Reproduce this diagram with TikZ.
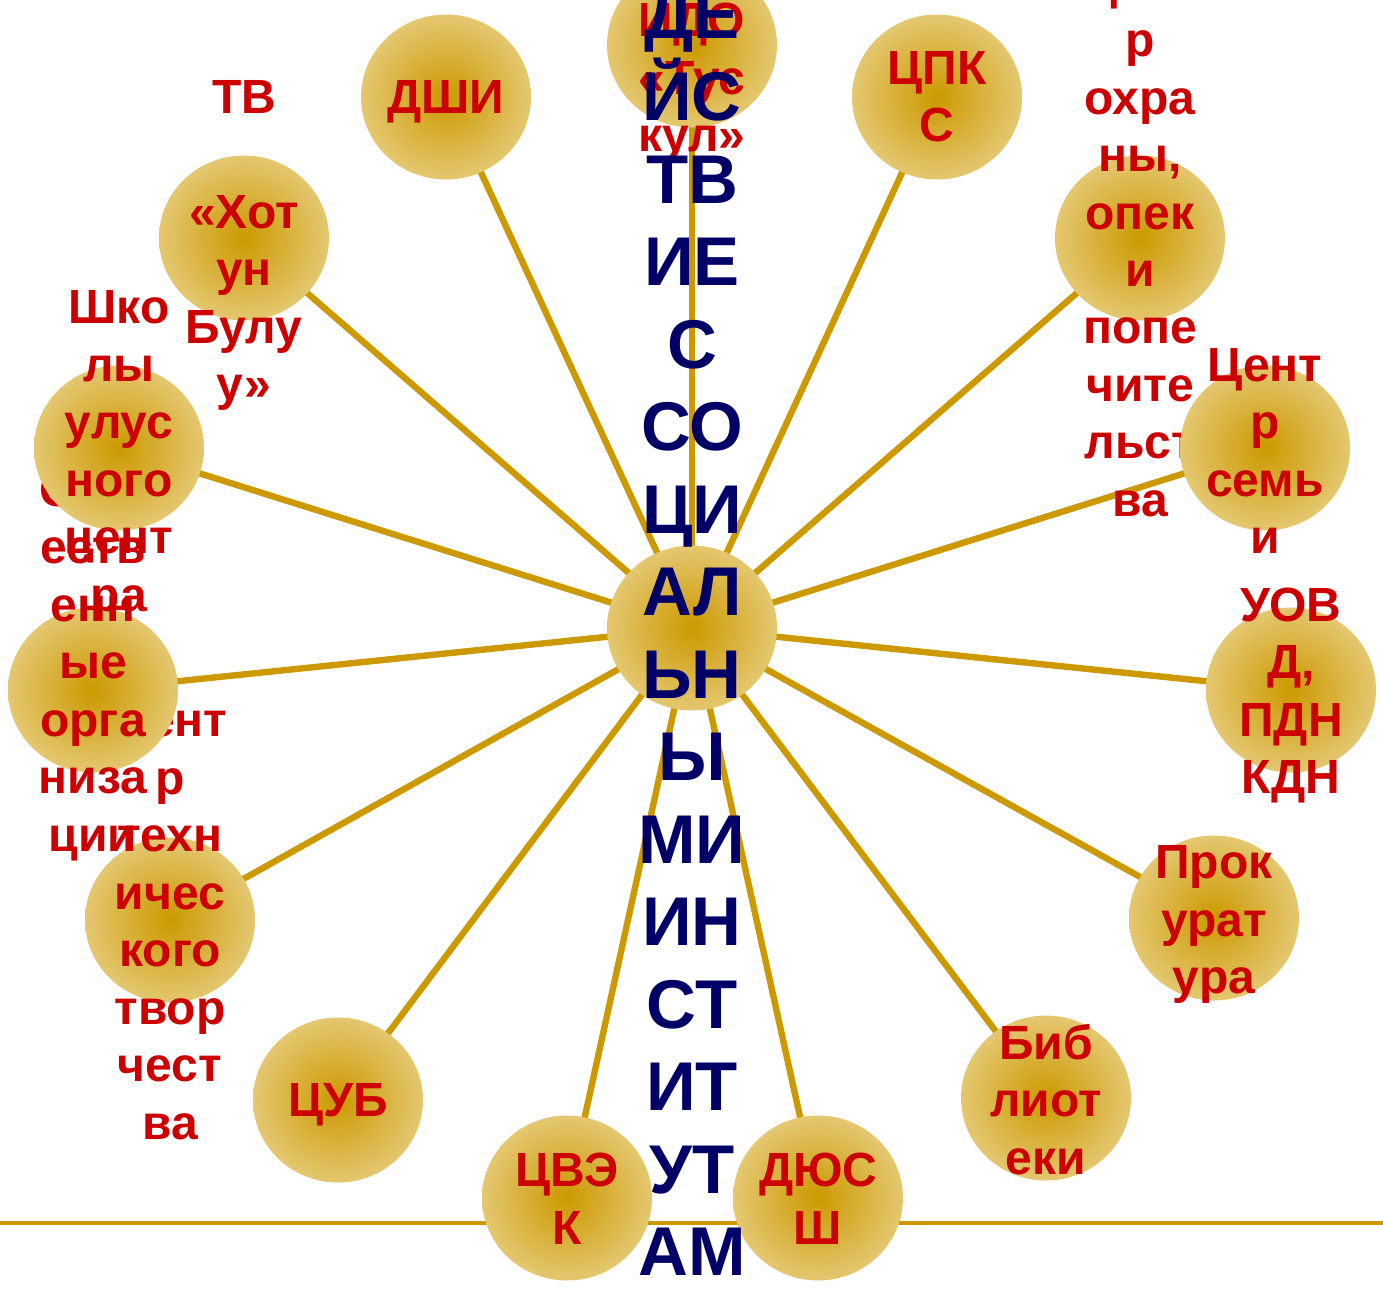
\documentclass[tikz,border=0pt]{standalone}
\usepackage{fontspec}
\setmainfont{Liberation Sans}
\usetikzlibrary{shapes.geometric,backgrounds}
\definecolor{gold}{RGB}{204,153,0}
\definecolor{goldlight}{RGB}{228,199,112}
\definecolor{lblred}{RGB}{204,0,0}
\definecolor{navy}{RGB}{0,0,102}
\newcommand\mytop{\rule{0pt}{0.72em}}
\newcommand\mybot{\rule[-0.21em]{0pt}{0pt}}
\tikzset{
 ball/.style={ellipse, minimum width=85pt, minimum height=82.5pt, inner sep=0pt,
   shading=radial, inner color=gold, outer color=goldlight, draw=none},
 lbl/.style={text=lblred, font=\fontsize{24}{28.75}\selectfont\bfseries, align=center, inner sep=0pt, yshift=-2pt},
 ttl/.style={text=navy, font=\fontsize{34.5}{41.25}\selectfont\bfseries, align=center, inner sep=0pt, yshift=-1pt},
 spoke/.style={draw=gold, line width=3.2pt},
 baseline rule/.style={draw=gold, line width=1.6pt}
}
\begin{document}
\begin{tikzpicture}[x=0.5pt,y=-0.5pt]
\useasboundingbox (0,0) rectangle (1383,1297);
\clip (0,0) rectangle (1383,1297);
% top
\node[ball] (top) at (692,45) {};
\node[lbl] (ttop) at (692,78) {\mytop ИДО\\«Тус\\кул»\mybot};
% ДШИ
\node[ball] (dshi) at (446,97) {};
\node[lbl] (tdshi) at (446,97) {\mytop ДШИ\mybot};
% ЦПКС
\node[ball] (cpk) at (937,97) {};
\node[lbl] (tcpk) at (937,97) {\mytop ЦПК\\С\mybot};
% Хотун Булуу
\node[ball] (hot) at (244,238) {};
\node[lbl] (thot) at (244,241) {\mytop ТВ\\\mbox{}\\«Хот\\ун\\Булу\\у»\mybot};
% опеки
\node[ball] (opek) at (1140,238) {};
\node[lbl] (topek) at (1140,241.5) {\mytop Цент\\р\\охра\\ны,\\опек\\и\\попе\\чите\\льст\\ва\mybot};
% Центр технического творчества
\node[ball] (teh) at (170,920) {};
\node[lbl] (tteh) at (170,921.5) {\mytop Цент\\р\\техн\\ичес\\кого\\твор\\чест\\ва\mybot};
% Общественные организации
\node[ball] (obsh) at (93,690) {};
\node[lbl] (tobsh) at (93,662) {\mytop Общ\\еств\\енн\\ые\\орга\\низа\\ции\mybot};
% Школы
\node[ball] (shk) at (119,448) {};
\node[lbl] (tshk) at (119,451) {\mytop Шко\\лы\\улус\\ного\\цент\\ра\mybot};
% Центр семьи
\node[ball] (sem) at (1265,448) {};
\node[lbl] (tsem) at (1265,451) {\mytop Цент\\р\\семь\\и\mybot};
% УОВД
\node[ball] (ovd) at (1291,690) {};
\node[lbl] (tovd) at (1291,691) {\mytop УОВ\\Д,\\ПДН\\КДН\mybot};
% Прокуратура
\node[ball] (prok) at (1214,918) {};
\node[lbl] (tprok) at (1214,920) {\mytop Прок\\урат\\ура\mybot};
% ЦУБ
\node[ball] (cub) at (338,1100) {};
\node[lbl] (tcub) at (338,1100) {\mytop ЦУБ\mybot};
% Библиотеки
\node[ball] (bib) at (1046,1098) {};
\node[lbl] (tbib) at (1046,1100) {\mytop Биб\\лиот\\еки\mybot};
% ЦВЭК
\node[ball] (cvek) at (567,1198) {};
\node[lbl] (tcvek) at (567,1199) {\mytop ЦВЭ\\К\mybot};
% ДЮСШ
\node[ball] (dush) at (818,1198) {};
\node[lbl] (tdush) at (818,1199) {\mytop ДЮС\\Ш\mybot};
% centre
\node[ball] (ctr) at (692,628) {};
% title
\node[ttl] (title) at (692,631) {ДЕ\\ЙС\\ТВ\\ИЕ\\С\\СО\\ЦИ\\АЛ\\ЬН\\Ы\\МИ\\ИН\\СТ\\ИТ\\УТ\\АМ};
\coordinate (hl) at (0,1223);
\coordinate (hr) at (1383,1223);
\begin{scope}[on background layer]
\draw[baseline rule] (hl) -- (hr);
\foreach \n in {top,dshi,cpk,hot,opek,obsh,shk,sem,ovd,teh,prok,cub,bib,cvek,dush}
  \draw[spoke] (ctr.center) -- (\n.center);
\end{scope}
\end{tikzpicture}
\end{document}
